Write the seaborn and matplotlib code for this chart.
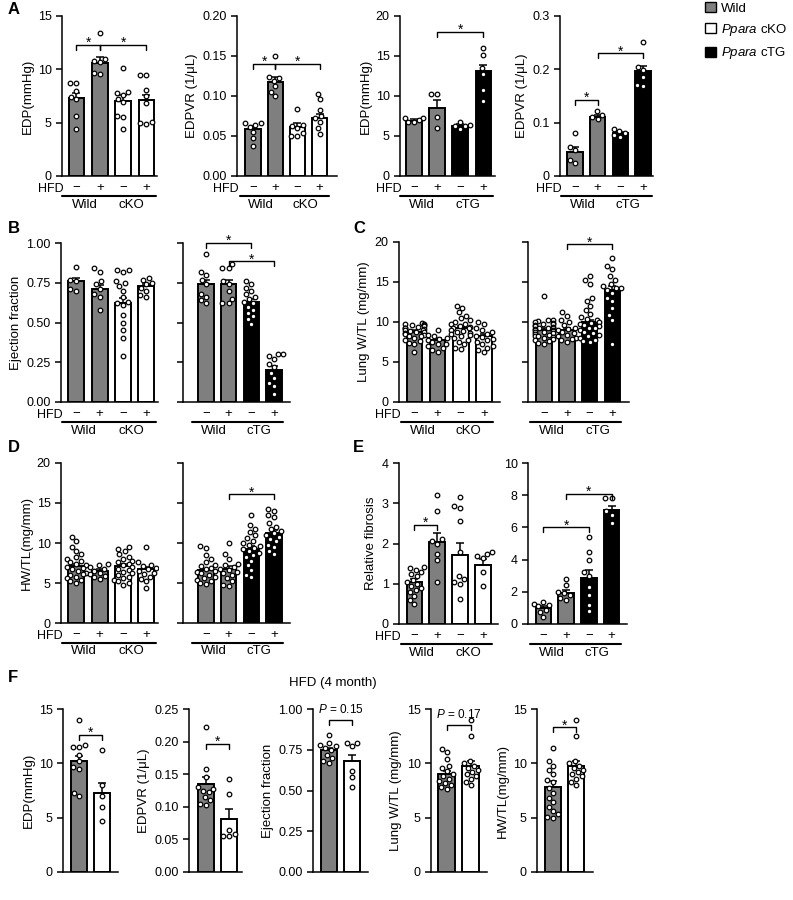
import numpy as np
import pandas as pd
import matplotlib
matplotlib.use("Agg")
import matplotlib.pyplot as plt
import seaborn as sns
from matplotlib.patches import Patch
from matplotlib.transforms import blended_transform_factory

# ---------------- data ----------------
genotype_colors = {"Wild": "#7f7f7f", "cKO": "#ffffff", "cTG": "#000000"}
hfd_signs = ["\u2212", "+", "\u2212", "+"]

# Panel A
A1_means = [7.3, 10.6, 7.0, 7.1]
A1_sems = [0.45, 0.55, 0.6, 0.5]
A1_points = [[8.7, 8.7, 8.0, 7.4, 7.2, 5.6, 4.4],
             [13.4, 11.0, 10.8, 10.7, 9.7, 9.6],
             [10.1, 7.9, 7.8, 7.6, 7.2, 6.9, 5.6, 5.5, 4.4],
             [9.5, 9.5, 8.1, 7.5, 6.8, 5.1, 5.0, 4.9]]
A2_means = [0.059, 0.118, 0.061, 0.073]
A2_sems = [0.004, 0.006, 0.005, 0.005]
A2_points = [[0.066, 0.066, 0.064, 0.061, 0.055, 0.047, 0.038],
             [0.150, 0.124, 0.122, 0.119, 0.112, 0.105, 0.100],
             [0.084, 0.064, 0.062, 0.060, 0.054, 0.050, 0.050],
             [0.103, 0.096, 0.082, 0.075, 0.072, 0.068, 0.060, 0.053]]
A3_means = [6.9, 8.5, 6.3, 13.1]
A3_sems = [0.2, 1.0, 0.25, 0.8]
A3_points = [[7.3, 7.2, 7.0, 6.8, 6.7],
             [10.2, 10.2, 7.4, 6.0],
             [6.8, 6.4, 6.3, 6.2, 5.9],
             [16.0, 15.1, 13.5, 12.8, 10.8, 9.4]]
A4_means = [0.045, 0.110, 0.080, 0.197]
A4_sems = [0.009, 0.004, 0.003, 0.009]
A4_points = [[0.080, 0.055, 0.048, 0.030, 0.025],
             [0.121, 0.114, 0.110, 0.106],
             [0.088, 0.084, 0.080, 0.076, 0.073],
             [0.252, 0.205, 0.198, 0.186, 0.170, 0.168]]

# Panel B (ejection fraction)
B1_means = [0.76, 0.71, 0.62, 0.73]
B1_sems = [0.02, 0.025, 0.035, 0.015]
B1_points = [[0.85, 0.77, 0.76, 0.71, 0.70],
             [0.84, 0.82, 0.76, 0.74, 0.71, 0.68, 0.66, 0.58],
             [0.83, 0.83, 0.82, 0.76, 0.75, 0.73, 0.70, 0.66, 0.63, 0.62, 0.61, 0.55, 0.50, 0.45, 0.40, 0.29],
             [0.78, 0.77, 0.75, 0.74, 0.72, 0.70, 0.67, 0.66]]
B2_means = [0.74, 0.74, 0.63, 0.20]
B2_sems = [0.03, 0.025, 0.02, 0.025]
B2_points = [[0.93, 0.82, 0.80, 0.77, 0.74, 0.68, 0.66, 0.64, 0.62],
             [0.87, 0.84, 0.84, 0.76, 0.74, 0.70, 0.65, 0.62, 0.62],
             [0.76, 0.74, 0.72, 0.70, 0.68, 0.66, 0.65, 0.63, 0.62, 0.60, 0.58, 0.56, 0.54, 0.52, 0.49],
             [0.30, 0.30, 0.29, 0.27, 0.24, 0.22, 0.18, 0.15, 0.12, 0.10, 0.05]]

# Panel C (lung W/TL)
C1_means = [8.8, 7.8, 9.2, 8.2]
C1_sems = [0.2, 0.25, 0.3, 0.3]
C1_points = [[9.9, 9.8, 9.7, 9.6, 9.6, 9.5, 9.4, 9.3, 9.2, 9.1, 9.0, 9.0, 8.9, 8.8, 8.7, 8.6, 8.5, 8.4, 8.3, 8.2, 8.0, 7.8, 7.6, 7.4, 7.2, 6.2],
             [9.0, 8.4, 8.2, 8.0, 7.9, 7.7, 7.5, 7.3, 7.2, 7.0, 6.7, 6.5, 6.3],
             [12.0, 11.8, 11.2, 10.8, 10.5, 10.2, 10.0, 9.8, 9.7, 9.5, 9.4, 9.3, 9.2, 9.0, 8.9, 8.8, 8.6, 8.5, 8.4, 8.2, 8.0, 7.8, 7.5, 7.2, 6.8, 6.6],
             [10.0, 9.8, 9.2, 9.0, 8.8, 8.5, 8.3, 8.1, 7.9, 7.7, 7.5, 7.2, 7.0, 6.8, 6.5, 6.2]]
C2_means = [9.0, 8.95, 10.0, 14.0]
C2_sems = [0.2, 0.25, 0.3, 0.5]
C2_points = [[13.2, 10.3, 10.2, 10.1, 10.0, 9.9, 9.8, 9.7, 9.6, 9.5, 9.4, 9.3, 9.2, 9.2, 9.1, 9.0, 9.0, 8.9, 8.8, 8.7, 8.6, 8.5, 8.4, 8.3, 8.2, 8.1, 8.0, 7.9, 7.8, 7.6, 7.4, 7.2],
             [11.3, 10.8, 10.2, 10.0, 9.6, 9.3, 9.1, 9.0, 8.8, 8.6, 8.4, 8.2, 8.0, 7.9, 7.7, 7.5],
             [15.8, 15.3, 14.8, 13.0, 12.6, 12.0, 11.5, 11.0, 10.6, 10.4, 10.2, 10.0, 9.9, 9.8, 9.6, 9.5, 9.3, 9.2, 9.0, 8.8, 8.6, 8.4, 8.2, 8.0, 7.8, 7.6, 7.5],
             [18.0, 17.0, 16.6, 15.8, 15.3, 14.7, 14.5, 14.3, 14.2, 14.0, 13.6, 13.0, 12.6, 11.8, 10.9, 10.3, 7.2]]

# Panel D (HW/TL)
D1_means = [7.1, 6.5, 7.1, 6.7]
D1_sems = [0.3, 0.25, 0.25, 0.35]
D1_points = [[10.7, 10.2, 9.5, 9.0, 8.6, 8.2, 8.0, 7.8, 7.6, 7.4, 7.2, 7.0, 6.9, 6.7, 6.5, 6.3, 6.1, 6.0, 5.8, 5.6, 5.4, 5.2, 5.0],
             [7.4, 7.2, 7.0, 6.8, 6.5, 6.3, 6.1, 5.9, 5.7, 5.5],
             [9.5, 9.3, 9.0, 8.6, 8.3, 8.0, 7.8, 7.6, 7.4, 7.2, 7.0, 6.8, 6.6, 6.4, 6.2, 6.0, 5.8, 5.6, 5.4, 5.2, 5.0, 4.8],
             [9.5, 7.6, 7.3, 7.1, 6.9, 6.7, 6.5, 6.3, 6.1, 5.8, 5.5, 5.2, 4.4]]
D2_means = [6.6, 6.8, 9.2, 11.2]
D2_sems = [0.2, 0.3, 0.4, 0.4]
D2_points = [[9.6, 9.4, 8.5, 8.0, 7.6, 7.3, 7.1, 6.9, 6.7, 6.5, 6.4, 6.2, 6.0, 5.8, 5.6, 5.4, 5.2, 5.0, 4.9],
             [10.0, 8.6, 8.0, 7.4, 7.2, 7.0, 6.8, 6.6, 6.4, 6.2, 6.0, 5.6, 5.2, 4.8, 4.6],
             [13.5, 12.2, 11.8, 11.4, 11.0, 10.6, 10.3, 10.0, 9.8, 9.6, 9.4, 9.2, 9.0, 8.8, 8.5, 8.2, 7.8, 7.2, 6.6, 6.0, 5.7],
             [14.3, 14.0, 13.5, 13.2, 12.5, 12.0, 11.8, 11.5, 11.2, 11.0, 10.8, 10.5, 10.2, 9.8, 9.5, 9.0, 8.6]]

# Panel E (relative fibrosis)
E1_means = [1.05, 2.03, 1.72, 1.47]
E1_sems = [0.08, 0.23, 0.30, 0.14]
E1_points = [[1.42, 1.40, 1.35, 1.30, 1.25, 1.20, 1.10, 1.05, 1.00, 0.95, 0.90, 0.85, 0.80, 0.70, 0.60, 0.50],
             [3.2, 2.8, 2.1, 2.05, 2.0, 1.75, 1.6, 1.05],
             [3.15, 2.93, 2.88, 2.56, 1.8, 1.2, 1.12, 1.05, 1.0, 0.62],
             [1.78, 1.75, 1.68, 1.63, 1.30, 0.95]]
E2_means = [1.0, 1.9, 2.85, 7.1]
E2_sems = [0.13, 0.2, 0.5, 0.25]
E2_points = [[1.38, 1.25, 1.2, 1.1, 0.9, 0.75, 0.45],
             [2.8, 2.4, 2.0, 1.9, 1.8, 1.6, 1.5],
             [5.4, 4.5, 4.0, 3.2, 3.0, 2.3, 1.8, 1.2, 0.8],
             [7.85, 7.8, 7.0, 6.8, 6.3]]

# Panel F (HFD 4 month; Wild vs Ppara cKO)
F1_means = [10.2, 7.3]
F1_sems = [0.5, 0.9]
F1_points = [[14.0, 11.7, 11.5, 11.5, 10.8, 10.2, 9.7, 9.5, 7.3, 7.0],
             [11.2, 8.0, 7.0, 6.0, 4.7]]
F2_means = [0.135, 0.082]
F2_sems = [0.010, 0.015]
F2_points = [[0.222, 0.158, 0.145, 0.130, 0.128, 0.125, 0.122, 0.115, 0.110, 0.105, 0.103],
             [0.143, 0.120, 0.065, 0.058, 0.055, 0.055]]
F3_means = [0.75, 0.68]
F3_sems = [0.012, 0.04]
F3_points = [[0.84, 0.79, 0.78, 0.77, 0.76, 0.75, 0.72, 0.70, 0.68, 0.67],
             [0.79, 0.79, 0.77, 0.62, 0.58, 0.52]]
F4_means = [9.0, 9.8]
F4_sems = [0.3, 0.4]
F4_points = [[11.3, 11.0, 10.4, 9.8, 9.6, 9.3, 9.0, 8.8, 8.6, 8.4, 8.2, 8.0, 7.8, 7.6],
             [14.0, 12.5, 10.2, 10.0, 9.8, 9.6, 9.4, 9.2, 9.0, 8.8, 8.6, 8.3, 8.0]]
F5_means = [7.8, 9.8]
F5_sems = [0.55, 0.4]
F5_points = [[11.4, 10.2, 9.8, 9.4, 9.0, 8.5, 8.3, 7.7, 7.3, 6.8, 6.4, 6.0, 5.6, 5.3, 5.1, 5.0],
             [14.0, 12.5, 10.2, 10.0, 9.8, 9.6, 9.4, 9.2, 9.0, 8.8, 8.6, 8.3, 8.0]]

# ---------------- style ----------------
sns.set_style("ticks")
plt.rcParams["font.family"] = ["Liberation Sans", "DejaVu Sans"]
plt.rcParams.update({
    "mathtext.fontset": "custom",
    "mathtext.rm": "Liberation Sans",
    "mathtext.it": "Liberation Sans:italic",
    "axes.edgecolor": "black", "axes.linewidth": 1.1,
    "xtick.color": "black", "ytick.color": "black",
    "xtick.major.width": 1.1, "ytick.major.width": 1.1,
    "ytick.major.size": 4, "text.color": "black",
    "axes.labelcolor": "black",
})

W, H = 793, 900
fig = plt.figure(figsize=(W / 100, H / 100), dpi=100)
fig.patch.set_facecolor("white")


def add_ax(box):
    x0, x1, y0, y1 = box
    return fig.add_axes([x0 / W, 1 - y1 / H, (x1 - x0) / W, (y1 - y0) / H])


def draw(box, xlim, genos, means, sems, points, ylim, yticks, yticklabels,
         ylabel=None, hfd=False, brackets=(), groups=None):
    ax = add_ax(box)
    n = len(means)
    signs = hfd_signs if n == 4 else ["", ""]
    cats = [f"{g}{s}{i}" for i, (g, s) in enumerate(zip(genos, signs))]
    pal = {c: genotype_colors[g] for c, g in zip(cats, genos)}
    bdf = pd.DataFrame({"cat": cats, "val": means})
    sns.barplot(data=bdf, x="cat", y="val", hue="cat", order=cats, hue_order=cats,
                palette=pal, saturation=1, edgecolor="black", linewidth=1.4,
                width=0.68, legend=False, ax=ax, zorder=2)
    ax.errorbar(range(n), means, yerr=[np.zeros(n), sems], fmt="none",
                ecolor="black", elinewidth=1.1, capsize=3, capthick=1.1, zorder=3)
    pdf = pd.DataFrame({"cat": [c for c, p in zip(cats, points) for _ in p],
                        "val": [v for p in points for v in p]})
    sns.swarmplot(data=pdf, x="cat", y="val", order=cats, color="white",
                  edgecolor="black", linewidth=0.9, size=3.3, ax=ax,
                  zorder=4, warn_thresh=1)
    ax.set_xlim(*xlim)
    ax.set_ylim(*ylim)
    ax.set_yticks(yticks)
    ax.set_yticklabels(yticklabels, fontsize=9)
    ax.set_xticks(range(n))
    ax.set_xticklabels(signs, fontsize=9.5)
    ax.tick_params(axis="x", length=0, pad=4)
    ax.set_xlabel("")
    ax.set_ylabel(ylabel if ylabel else "", fontsize=9.5, labelpad=3)
    sns.despine(ax=ax)
    hpx = box[3] - box[2]
    trans = blended_transform_factory(ax.transData, ax.transAxes)
    if n == 4 and groups:
        yl = -19.5 / hpx
        yt = -28.5 / hpx
        for k, name in enumerate(groups):
            ax.plot([2 * k - 0.6, 2 * k + 1.4], [yl, yl], transform=trans,
                    color="black", lw=1.5, clip_on=False)
            ax.text(2 * k + 0.35, yt, name, transform=trans, ha="center",
                    va="center", fontsize=9.5)
    if hfd:
        fig.text((box[0] + 2) / W, 1 - (box[3] + 13) / H, "HFD", ha="right",
                 va="center", fontsize=9)
    d = 5 / hpx * (ylim[1] - ylim[0])
    for br in brackets:
        i, j, y = br[:3]
        ax.plot([i, i, j, j], [y - d, y, y, y - d], color="black", lw=1.0,
                clip_on=False, zorder=5)
        if len(br) > 3:
            ax.annotate(br[3], xy=((i + j) / 2, y), xytext=(0, 3),
                        textcoords="offset points", ha="center", va="bottom",
                        fontsize=8.5, annotation_clip=False)
        else:
            ax.annotate("*", xy=((i + j) / 2, y), xytext=(0, -1.5),
                        textcoords="offset points", ha="center", va="baseline",
                        fontsize=10, annotation_clip=False)
    return ax


WK = ["Wild", "Wild", "cKO", "cKO"]
WT = ["Wild", "Wild", "cTG", "cTG"]
t15 = [0, 5, 10, 15]
t20 = [0, 5, 10, 15, 20]
tEF = [0, 0.25, 0.5, 0.75, 1.0]
lEF = ["0.00", "0.25", "0.50", "0.75", "1.00"]
blank5 = [""] * 5
LUNG = "Lung W/TL (mg/mm)"
HWTL = "HW/TL(mg/mm)"
EDPVR = "EDPVR (1/\u03bcL)"

# Panel A
draw((62, 157, 16, 176), (-0.62, 3.45), WK, A1_means, A1_sems, A1_points,
     (0, 15), t15, [str(t) for t in t15], "EDP(mmHg)", hfd=True,
     brackets=[(0, 1, 12.3), (1, 3, 12.3)], groups=["Wild", "cKO"])
draw((237, 337, 16, 176), (-0.72, 3.78), WK, A2_means, A2_sems, A2_points,
     (0, 0.2), [0, 0.05, 0.1, 0.15, 0.2], ["0.00", "0.05", "0.10", "0.15", "0.20"],
     EDPVR, hfd=True, brackets=[(0, 1, 0.140), (1, 3, 0.140)], groups=["Wild", "cKO"])
draw((400, 495, 16, 176), (-0.6, 3.5), WT, A3_means, A3_sems, A3_points,
     (0, 20), t20, [str(t) for t in t20], "EDP(mmHg)", hfd=True,
     brackets=[(1, 3, 18.0)], groups=["Wild", "cTG"])
draw((560, 653, 16, 176), (-0.66, 3.44), WT, A4_means, A4_sems, A4_points,
     (0, 0.3), [0, 0.1, 0.2, 0.3], ["0", "0.1", "0.2", "0.3"], EDPVR, hfd=True,
     brackets=[(0, 1, 0.143), (1, 3, 0.230)], groups=["Wild", "cTG"])

# Panel B
draw((61, 158, 243, 402), (-0.65, 3.5), WK, B1_means, B1_sems, B1_points,
     (0, 1), tEF, lEF, "Ejection fraction", hfd=True, groups=["Wild", "cKO"])
draw((183, 290, 243, 402), (-1.0, 3.7), WT, B2_means, B2_sems, B2_points,
     (0, 1), tEF, blank5, None, brackets=[(0, 2, 1.0), (1, 3, 0.885)],
     groups=["Wild", "cTG"])

# Panel C
draw((399, 500, 242, 402), (-0.67, 3.7), WK, C1_means, C1_sems, C1_points,
     (0, 20), t20, [str(t) for t in t20], LUNG, hfd=True, groups=["Wild", "cKO"])
draw((528, 629, 242, 402), (-0.7, 3.73), WT, C2_means, C2_sems, C2_points,
     (0, 20), t20, blank5, None, brackets=[(1, 3, 19.7)], groups=["Wild", "cTG"])

# Panel D
draw((61, 158, 463, 623), (-0.65, 3.5), WK, D1_means, D1_sems, D1_points,
     (0, 20), t20, [str(t) for t in t20], HWTL, hfd=True, groups=["Wild", "cKO"])
draw((183, 290, 463, 623), (-1.0, 3.7), WT, D2_means, D2_sems, D2_points,
     (0, 20), t20, blank5, None, brackets=[(1, 3, 16.1)], groups=["Wild", "cTG"])

# Panel E
draw((399, 498, 463, 624), (-0.67, 3.65), WK, E1_means, E1_sems, E1_points,
     (0, 4), [0, 1, 2, 3, 4], ["0", "1", "2", "3", "4"], "Relative fibrosis",
     hfd=True, brackets=[(0, 1, 2.47)], groups=["Wild", "cKO"])
draw((528, 627, 463, 624), (-0.68, 3.68), WT, E2_means, E2_sems, E2_points,
     (0, 10), [0, 2, 4, 6, 8, 10], ["0", "2", "4", "6", "8", "10"], None,
     brackets=[(0, 2, 6.0), (1, 3, 8.1)], groups=["Wild", "cTG"])

# Panel F
FK = ["Wild", "cKO"]
draw((63, 118, 709, 872), (-0.7, 1.7), FK, F1_means, F1_sems, F1_points,
     (0, 15), t15, [str(t) for t in t15], "EDP(mmHg)", brackets=[(0, 1, 12.6)])
draw((189, 242, 709, 872), (-0.74, 1.57), FK, F2_means, F2_sems, F2_points,
     (0, 0.25), [0, 0.05, 0.1, 0.15, 0.2, 0.25],
     ["0.00", "0.05", "0.10", "0.15", "0.20", "0.25"], EDPVR,
     brackets=[(0, 1, 0.197)])
draw((313, 368, 709, 872), (-0.7, 1.7), FK, F3_means, F3_sems, F3_points,
     (0, 1), tEF, lEF, "Ejection fraction",
     brackets=[(0, 1, 0.93, "$P$ = 0.15")])
draw((431, 487, 709, 872), (-0.65, 1.68), FK, F4_means, F4_sems, F4_points,
     (0, 15), t15, [str(t) for t in t15], LUNG,
     brackets=[(0, 1, 13.5, "$P$ = 0.17")])
draw((537, 593, 709, 872), (-0.7, 1.74), FK, F5_means, F5_sems, F5_points,
     (0, 15), t15, [str(t) for t in t15], HWTL, brackets=[(0, 1, 13.3)])

fig.text(333 / W, 1 - 683 / H, "HFD (4 month)", ha="center", va="center", fontsize=9.5)

# panel letters
for letter, x, y in [("A", 8, 10), ("B", 8, 228), ("C", 353, 228),
                     ("D", 8, 448), ("E", 353, 448), ("F", 8, 677)]:
    fig.text(x / W, 1 - y / H, letter, ha="left", va="center",
             fontsize=12, fontweight="bold")

# legend
handles = [Patch(facecolor=genotype_colors[g], edgecolor="black", linewidth=1.0)
           for g in ["Wild", "cKO", "cTG"]]
labels = ["Wild", "$\\mathit{Ppara}$ cKO", "$\\mathit{Ppara}$ cTG"]
fig.legend(handles, labels, loc="upper left", bbox_to_anchor=(705 / W, 1 - 2 / H),
           frameon=False, fontsize=9.5, handlelength=0.8, handleheight=0.8,
           handletextpad=0.4, labelspacing=0.55, borderaxespad=0, borderpad=0)

fig.savefig("out.png", dpi=100, facecolor="white")
